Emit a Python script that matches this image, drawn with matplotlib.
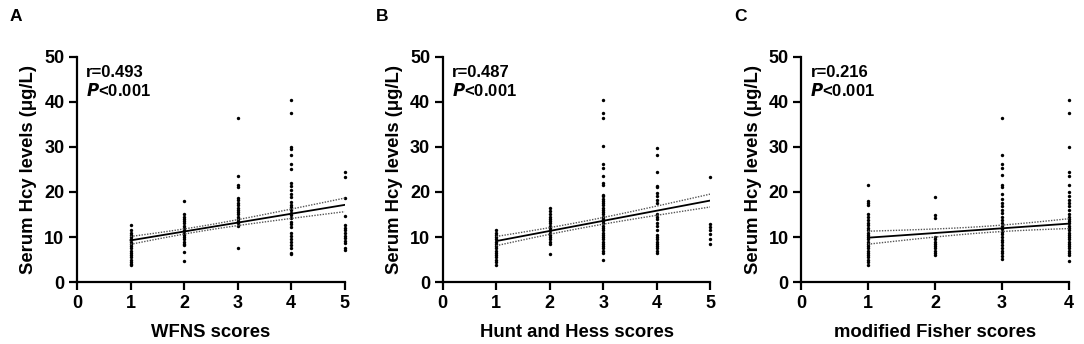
import numpy as np
import matplotlib
matplotlib.use("Agg")
import matplotlib.pyplot as plt

plt.rcParams['font.family'] = ['Liberation Sans', 'DejaVu Sans']
plt.rcParams['font.weight'] = 'bold'

# ---- data ----
# panel A: WFNS scores
wfns_1 = [12.6, 11.5, 11.0, 10.5, 10.0, 9.5, 9.0, 8.5, 8.0, 7.5, 7.0, 6.5, 6.0, 5.5, 5.0, 4.5, 4.0, 3.7]
wfns_2 = [17.9, 15.0, 14.5, 14.0, 13.5, 13.0, 12.5, 12.0, 11.5, 11.0, 10.5, 10.0, 9.5, 9.0, 8.5, 8.2, 6.6, 4.6]
wfns_3 = [36.5, 23.5, 21.5, 21.2, 18.7, 18.3, 17.5, 17.0, 16.5, 16.0, 15.5, 15.0, 14.5, 14.0, 13.5, 13.0, 12.5, 7.5]
wfns_4 = [40.3, 37.5, 30.0, 29.5, 28.3, 26.2, 25.2, 22.0, 21.3, 20.5, 19.6, 18.8, 17.8, 17.2, 16.6, 16.0,
          15.4, 14.8, 14.2, 13.4, 12.8, 12.2, 11.0, 10.3, 9.6, 9.0, 8.3, 7.6, 6.5, 6.2]
wfns_5 = [24.5, 23.4, 18.7, 14.7, 12.6, 12.0, 11.5, 10.8, 10.2, 9.7, 9.2, 8.6, 7.6, 7.2]

# panel B: Hunt and Hess scores
hh_1 = [11.6, 11.0, 10.5, 10.0, 9.5, 9.0, 8.5, 8.0, 7.5, 7.0, 6.5, 6.0, 5.5, 5.0, 4.5, 3.8]
hh_2 = [16.5, 15.8, 15.0, 14.5, 14.0, 13.5, 13.0, 12.5, 12.0, 11.5, 11.0, 10.5, 10.0, 9.5, 9.0, 8.4, 6.3]
hh_3 = [40.3, 37.6, 36.5, 30.2, 26.2, 25.3, 23.6, 21.9, 21.5, 19.4, 19.0, 18.5, 18.0, 17.5, 17.0, 16.5,
        16.0, 15.5, 15.0, 14.5, 14.0, 13.5, 13.0, 12.5, 12.0, 11.5, 11.0, 10.5, 10.0, 9.5, 9.0, 8.5,
        8.0, 7.5, 7.0, 6.4, 4.8]
hh_4 = [29.8, 28.2, 24.5, 21.4, 21.0, 19.7, 19.0, 18.2, 17.6, 15.0, 14.5, 14.0, 13.2, 12.4, 11.5, 10.5,
        10.0, 9.5, 9.0, 8.5, 8.0, 7.5, 7.0, 6.4]
hh_5 = [23.4, 12.8, 12.3, 11.6, 10.6, 9.6, 8.5]

# panel C: modified Fisher scores
mf_1 = [21.6, 18.0, 17.5, 17.0, 15.0, 14.5, 13.8, 13.2, 12.6, 12.0, 11.5, 11.0, 10.5, 10.0, 9.5, 9.0,
        8.5, 8.0, 7.5, 7.0, 6.5, 6.0, 5.5, 5.0, 4.5, 3.8]
mf_2 = [18.9, 14.8, 14.3, 10.0, 9.5, 9.0, 8.5, 8.0, 7.5, 7.0, 6.5, 6.0]
mf_3 = [36.5, 28.3, 26.2, 25.3, 23.8, 21.6, 21.2, 19.6, 18.5, 17.5, 16.8, 16.0, 15.3, 14.5, 13.8, 13.0,
        12.4, 11.8, 11.2, 10.6, 10.0, 9.4, 8.8, 8.2, 7.6, 7.0, 6.4, 5.8, 5.2]
mf_4 = [40.3, 37.5, 30.0, 24.5, 23.6, 21.5, 19.9, 19.1, 18.2, 17.5, 16.8, 16.0, 15.2, 14.5, 14.0, 13.5,
        13.0, 12.5, 12.0, 11.5, 11.0, 10.5, 10.0, 9.5, 9.0, 8.5, 8.0, 7.5, 7.0, 6.5, 6.0, 4.7]

# regression line (intercept, slope) and 95% band shape (centre, min half-width, spread)
fit_A = (7.28, 1.97)
fit_B = (6.85, 2.25)
fit_C = (8.81, 1.04)
band_A = (2.3, 0.55, 0.52)
band_B = (2.5, 0.70, 0.50)
band_C = (2.8, 0.70, 0.70)

panels = [
    ('A', [wfns_1, wfns_2, wfns_3, wfns_4, wfns_5], fit_A, band_A, 'WFNS scores', 'r=0.493', 5),
    ('B', [hh_1, hh_2, hh_3, hh_4, hh_5], fit_B, band_B, 'Hunt and Hess scores', 'r=0.487', 5),
    ('C', [mf_1, mf_2, mf_3, mf_4], fit_C, band_C, 'modified Fisher scores', 'r=0.216', 4),
]

fig = plt.figure(figsize=(10.84, 3.44), dpi=100)
lefts = [0.071, 0.4084, 0.739]

for (letter, cols, fit, band, xlabel, rtext, xmax), left in zip(panels, lefts):
    ax = fig.add_axes([left, 0.180, 0.247, 0.655])
    for score, vals in enumerate(cols, start=1):
        ax.scatter(np.full(len(vals), score), vals, s=6, c='black', linewidths=0, clip_on=False, zorder=3)

    xs = np.linspace(1, xmax, 100)
    yfit = fit[0] + fit[1] * xs
    half = np.sqrt(band[1] ** 2 + band[2] ** 2 * (xs - band[0]) ** 2)
    ax.plot(xs, yfit, color='black', lw=1.3, zorder=4)
    ax.plot(xs, yfit + half, color='#555555', lw=1.0, ls=(0, (1, 1)), zorder=4)
    ax.plot(xs, yfit - half, color='#555555', lw=1.0, ls=(0, (1, 1)), zorder=4)

    ax.set_xlim(0, xmax)
    ax.set_ylim(0, 50)
    ax.set_xticks(range(0, xmax + 1))
    ax.set_yticks(range(0, 51, 10))
    for s in ['top', 'right']:
        ax.spines[s].set_visible(False)
    for s in ['left', 'bottom']:
        ax.spines[s].set_linewidth(1.6)
    ax.tick_params(direction='out', length=6, width=1.6, labelsize=13, pad=3)
    ax.set_xlabel(xlabel, fontsize=13.3, fontweight='bold', labelpad=9)
    ax.set_ylabel('Serum Hcy levels (μg/L)', fontsize=13.3, fontweight='bold', labelpad=5)

    ax.text(0.035, 0.93, rtext, transform=ax.transAxes, fontsize=12, fontweight='bold', va='center')
    ax.text(0.035, 0.85, r'$\mathbfit{P}$<0.001', transform=ax.transAxes, fontsize=12,
            fontweight='bold', va='center')

    fig.text(left - 0.062, 0.953, letter, fontsize=12.5, fontweight='bold', va='center')

fig.savefig('out.png', dpi=100)
